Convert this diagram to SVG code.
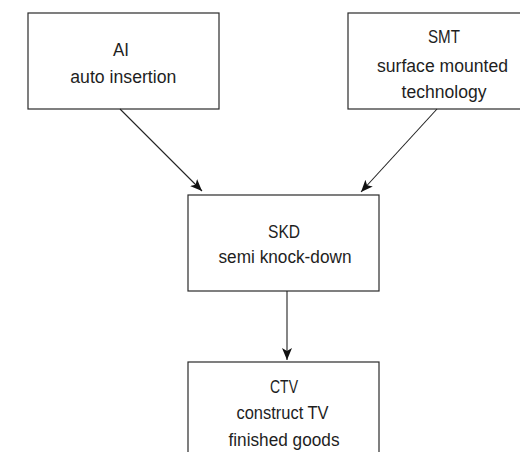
<svg xmlns="http://www.w3.org/2000/svg" width="520" height="452" viewBox="0 0 520 452">
  <style>
    .box { fill: #ffffff; stroke: #2a2a2a; stroke-width: 1.2; }
    .lbl { font-family: "Liberation Sans", Arial, sans-serif; font-size: 17.5px; fill: #1e1e1e; text-anchor: middle; }
    .edge { stroke: #222222; stroke-width: 1.1; fill: none; marker-end: url(#arrow); }
  </style>
  <defs>
    <marker id="arrow" viewBox="0 0 12 10" refX="12" refY="5" markerWidth="12" markerHeight="10" markerUnits="userSpaceOnUse" orient="auto">
      <path d="M0,0 L12,5 L0,10 L3,5 Z" fill="#111111"/>
    </marker>
  </defs>
  <rect width="520" height="452" fill="#ffffff"/>

  <g id="ai">
    <rect class="box" x="28" y="13" width="191" height="96"/>
    <text class="lbl" x="121" y="56" textLength="16" lengthAdjust="spacingAndGlyphs">AI</text>
    <text class="lbl" x="123.3" y="83" textLength="106" lengthAdjust="spacingAndGlyphs">auto insertion</text>
  </g>

  <!-- box runs past the right edge of the canvas -->
  <g id="smt">
    <rect class="box" x="348" y="13" width="191" height="96"/>
    <text class="lbl" x="444" y="43" textLength="32" lengthAdjust="spacingAndGlyphs">SMT</text>
    <text class="lbl" x="442.5" y="72" textLength="131" lengthAdjust="spacingAndGlyphs">surface mounted</text>
    <text class="lbl" x="444" y="98" textLength="85" lengthAdjust="spacingAndGlyphs">technology</text>
  </g>

  <g id="skd">
    <rect class="box" x="188" y="195" width="191" height="96"/>
    <text class="lbl" x="284" y="238" textLength="32" lengthAdjust="spacingAndGlyphs">SKD</text>
    <text class="lbl" x="285" y="263" textLength="133" lengthAdjust="spacingAndGlyphs">semi knock-down</text>
  </g>

  <g id="ctv">
    <rect class="box" x="188" y="362" width="191" height="100"/>
    <text class="lbl" x="284" y="393" textLength="28" lengthAdjust="spacingAndGlyphs">CTV</text>
    <text class="lbl" x="282.5" y="419" textLength="92" lengthAdjust="spacingAndGlyphs">construct TV</text>
    <text class="lbl" x="284" y="446" textLength="111" lengthAdjust="spacingAndGlyphs">finished goods</text>
  </g>

  <g id="connectors">
    <line class="edge" x1="120" y1="109" x2="202" y2="191"/>
    <line class="edge" x1="437" y1="109" x2="361" y2="192"/>
    <line class="edge" x1="287" y1="291" x2="287" y2="360"/>
  </g>
</svg>
